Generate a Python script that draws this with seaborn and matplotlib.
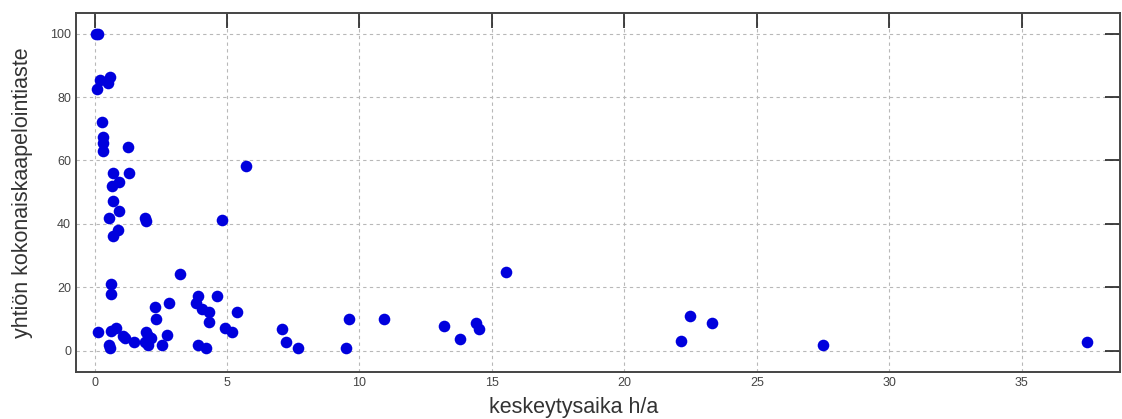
import matplotlib
matplotlib.use("Agg")
import matplotlib.pyplot as plt
import seaborn as sns
import pandas as pd

# keskeytysaika h/a
outage_hours = [
    0.05, 0.15, 0.09, 0.2, 0.5, 0.58, 0.28, 0.33, 0.33, 0.33, 1.27,
    0.68, 1.3, 0.92, 0.66, 0.68, 0.92, 0.53, 1.9, 1.93, 4.81, 5.73,
    0.89, 0.7, 3.22, 0.64, 0.61, 2.27, 2.8, 2.31, 0.14, 0.64, 0.8,
    1.08, 1.14, 1.49, 1.96, 2.02, 1.9, 2.02, 2.15, 0.6, 0.55, 2.55,
    2.74, 3.9, 3.82, 4.64, 4.07, 4.32, 4.32, 5.38, 4.91, 5.19, 3.9,
    4.22, 7.07, 7.24, 7.7, 9.62, 9.5, 10.94, 13.18, 13.81, 14.4,
    14.52, 15.53, 22.47, 23.3, 22.15, 27.5, 37.45,
]
# yhtiön kokonaiskaapelointiaste
cabling_rate = [
    100, 100, 82.5, 85.4, 84.5, 86.4, 72.2, 67.5, 65.4, 63.1, 64.2,
    56.2, 56.2, 53.1, 52.0, 47.2, 44.2, 42.0, 42.0, 41.0, 41.2, 58.3,
    38.1, 36.2, 24.1, 20.9, 17.8, 13.9, 15.0, 9.9, 6.0, 6.2, 7.1,
    4.6, 3.9, 2.8, 6.0, 4.6, 2.8, 1.8, 3.9, 0.8, 1.8, 1.8,
    5.0, 17.3, 15.0, 17.3, 13.1, 12.1, 9.0, 12.1, 7.1, 6.0, 1.8,
    0.8, 6.8, 2.8, 0.8, 9.9, 0.8, 9.9, 7.8, 3.7, 8.8,
    6.7, 24.9, 10.9, 8.8, 3.1, 1.8, 2.8,
]
x_ticks = [0, 5, 10, 15, 20, 25, 30, 35]
y_ticks = [0, 20, 40, 60, 80, 100]
x_label = "keskeytysaika h/a"
y_label = "yhtiön kokonaiskaapelointiaste"

df = pd.DataFrame({"x": outage_hours, "y": cabling_rate})

sns.set_style("white")
plt.rcParams["font.family"] = ["Liberation Sans", "DejaVu Sans"]

fig = plt.figure(figsize=(11.22, 4.19), dpi=100)
ax = fig.add_axes([0.0677, 0.113, 0.998 - 0.0677, 0.969 - 0.113])

sns.scatterplot(data=df, x="x", y="y", ax=ax, color="#0000dd", s=70,
                edgecolor="#0000dd", linewidth=0, zorder=3)

ax.set_xlim(-0.7, 38.7)
ax.set_ylim(-6.6, 106.5)
ax.set_xticks(x_ticks)
ax.set_yticks(y_ticks)
ax.grid(True, color="#b8b8b8", linestyle=(0, (3, 3)), linewidth=0.8)
ax.set_axisbelow(True)
ax.tick_params(direction="in", length=11, width=1.2, color="#222222",
               top=True, right=True, labelsize=9, labelcolor="#444444")
for sp in ax.spines.values():
    sp.set_visible(True)
    sp.set_color("#444444")
    sp.set_linewidth(1.4)
ax.set_xlabel(x_label, fontsize=15.5, color="#333333")
ax.set_ylabel(y_label, fontsize=15.5, color="#333333")
ax.xaxis.set_label_coords(0.477, -0.07)
ax.yaxis.set_label_coords(-0.041, 0.5)

fig.savefig("out.png", dpi=100)
